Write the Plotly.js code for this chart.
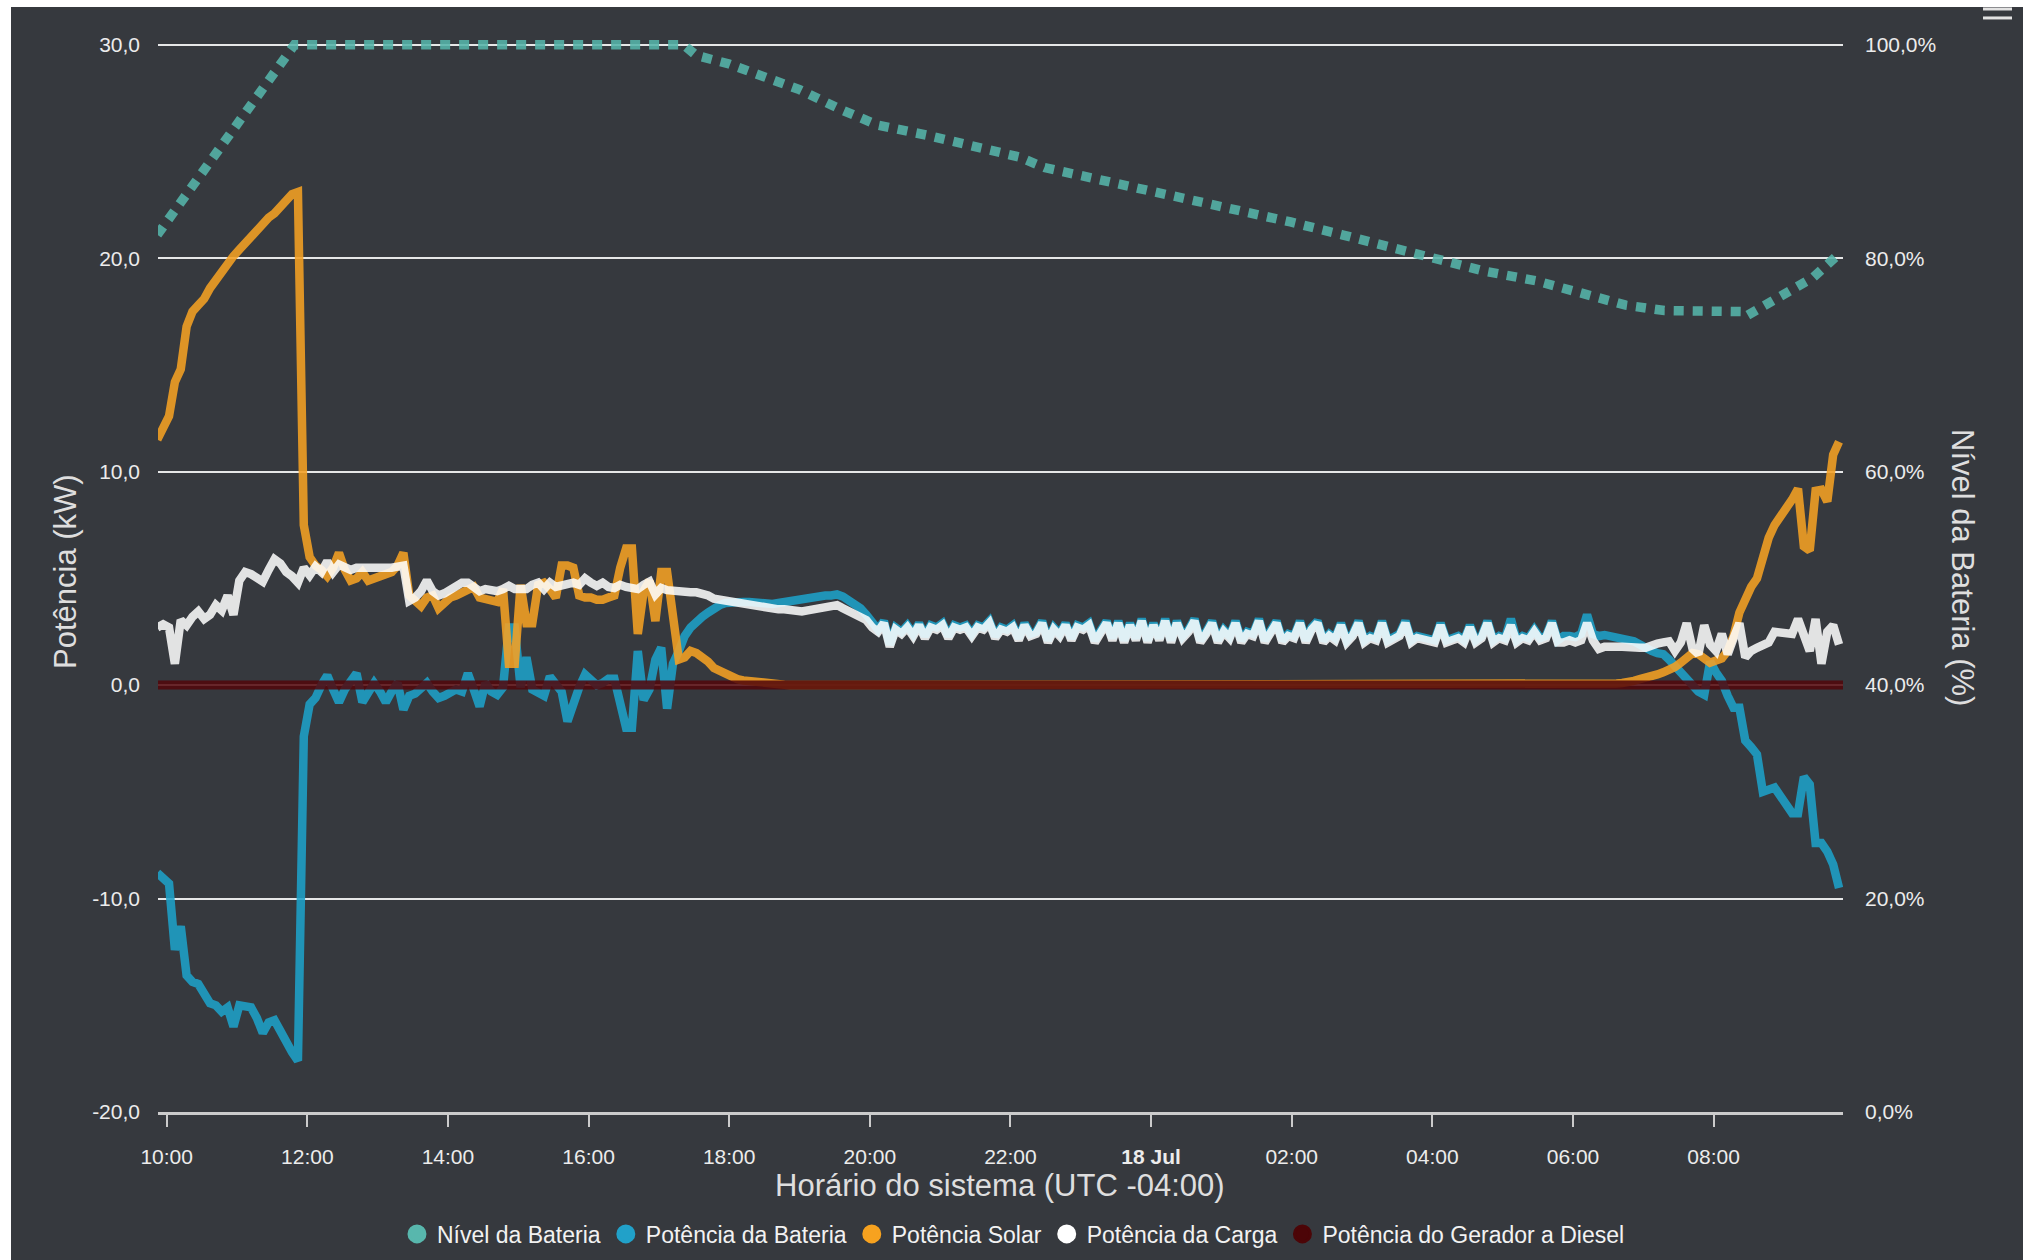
<!DOCTYPE html>
<html>
<head>
<meta charset="utf-8">
<script src="https://cdn.plot.ly/plotly-3.0.1.min.js"></script>
<style>
html,body{margin:0;padding:0;background:#ffffff;width:2023px;height:1260px;overflow:hidden}
#chart{position:absolute;left:11px;top:7px;width:2012px;height:1253px}
</style>
</head>
<body>
<div id="chart"></div>
<script>
// ---------- data ----------
const SERIES_START = '2023-07-17T09:52:00Z';   // first 5-min sample
const SAMPLE_MINUTES = 5;

const SOLAR_KW = [
 11.5,12.0,12.6,14.2,14.8,16.8,17.5,17.8,18.1,18.6,19.0,19.4,19.8,20.1,20.4,20.7,21.1,21.4,21.7,21.9,22.1,22.4,22.7,23.0,23.1,
 7.5,6.0,5.6,5.4,5.1,5.5,6.2,5.4,4.9,5.0,5.3,4.9,5.0,5.1,5.2,5.3,5.6,6.2,4.2,3.9,3.7,4.1,4.2,3.6,3.9,
 4.1,4.2,4.3,4.4,4.6,4.1,4.0,3.9,3.9,4.5,1.0,1.0,4.7,2.9,2.9,4.7,4.8,4.5,4.1,5.6,5.6,5.5,4.2,4.1,4.1,
 4.0,4.0,4.1,4.2,5.5,6.4,6.4,2.4,4.4,4.9,3.0,5.3,5.3,3.0,1.2,1.3,1.6,1.5,1.35,1.1,0.8,0.65,0.5,0.35,0.28,
 0.22,0.18,0.14,0.1,0.08,0.05,0.03,0.02,0.01,
 0,0,0,0,0,0,0,0,0,0,0,0,0,0,0,
 0,0,0,0,0,0,0,0,0,0,0,0,0,0,0,
 0,0,0,0,0,0,0,0,0,0,0,0,0,0,0,
 0,0,0,0,0,0,0,0,0,0,0,0,0,0,0,
 0,0,0,0,0,0,0,0,0,0,0,0,0,0,0,
 0,0,0,0,0,0,0,0,0,0,0,0,0,0,0,
 0,0,0,0,0,0,0,0,0,0,0,0,0,0,0,
 0,0,0,0,0,0,0,0,0,0,0,0,0,0,0,
 0,0,0,0,0,0,0,0,0,0,0,0,0,0,0,
 0.02,0.03,0.04,0.05,0.07,0.08,0.1,0.12,0.2,0.28,0.32,0.4,0.5,0.6,0.68,0.85,1.05,1.3,1.5,1.45,1.3,1.05,1.15,1.25,1.6,
 2.3,3.4,4.1,4.6,5.0,6.0,6.9,7.5,8.0,8.3,8.7,9.2,6.5,6.3,9.1,9.15,8.6,10.8,11.4
];

const BATTERY_KW = [
 -8.8,-9.0,-9.3,-12.4,-11.3,-13.6,-13.9,-14.0,-14.5,-14.9,-15.0,-15.3,-15.1,-16.0,-15.0,-15.1,-15.1,-15.6,-16.3,-15.8,-15.7,-16.2,-16.8,-17.2,-17.6,
 -2.4,-0.9,-0.6,0.0,0.45,-0.2,-0.8,-0.2,0.2,0.55,-0.8,-0.3,0.1,-0.3,-0.8,-0.3,0.1,-1.15,-0.5,-0.4,-0.2,0.1,-0.3,-0.6,-0.5,
 -0.4,-0.2,-0.3,0.55,-0.2,-1.0,0.1,-0.3,-0.45,-0.1,2.7,2.7,-0.1,1.3,-0.2,-0.3,-0.5,0.4,0.1,-0.3,-1.7,-0.8,-0.1,0.5,0.2,
 0.0,0.1,0.3,0.3,-1.0,-2.0,-2.0,1.6,-0.7,-0.2,1.2,1.75,-1.1,1.0,1.6,2.3,2.7,3.0,3.2,3.4,3.6,3.75,3.85,3.9,3.85,
 3.9,3.9,3.85,3.85,3.85,3.8,3.85,3.9,3.95,4.05,4.1,4.1,4.1,4.15,4.2,4.2,4.25,4.15,4.0,3.8,3.6,3.3,2.9,2.6,3.0,
 1.9,2.7,2.5,2.8,2.4,2.9,2.3,2.8,2.7,2.9,2.3,2.8,2.7,2.8,2.4,2.8,2.7,3.0,2.3,2.7,2.6,2.8,2.2,2.9,2.4,
 2.5,3.0,2.1,2.7,2.4,2.9,2.2,2.8,2.7,2.9,2.1,2.6,3.0,2.2,3.0,2.1,2.9,2.2,3.1,2.1,2.9,2.2,3.1,2.1,3.0,
 2.3,2.6,3.1,2.1,2.5,3.0,2.1,2.6,2.3,3.0,2.1,2.5,2.4,3.1,2.1,2.6,3.0,2.1,2.4,2.3,3.0,2.1,2.7,3.0,2.1,
 2.4,2.2,2.9,2.1,2.4,3.0,2.1,2.3,2.2,3.0,2.1,2.3,2.4,3.0,2.1,2.3,2.2,2.2,2.1,2.9,2.1,2.2,2.3,2.1,2.8,
 2.1,2.3,3.0,2.1,2.3,2.2,3.1,2.1,2.3,2.2,2.6,2.2,2.3,3.0,2.1,2.3,2.3,2.25,2.4,
 3.3,2.4,2.3,2.35,2.3,2.25,2.2,2.1,2.05,1.9,1.7,1.6,1.5,1.45,1.2,0.9,0.6,0.2,-0.1,-0.3,-0.45,1.1,0.6,0.2,-0.5,
 -1.06,-1.06,-2.6,-2.9,-3.25,-5.0,-4.9,-4.8,-5.2,-5.6,-6.0,-6.0,-4.3,-4.65,-7.4,-7.4,-7.8,-8.4,-9.5
];

const LOAD_KW = [
 2.7,2.85,2.7,1.0,3.05,2.8,3.2,3.45,3.1,3.3,3.75,3.5,4.2,3.3,4.9,5.3,5.2,5.0,4.85,5.4,5.9,5.7,5.3,5.1,4.8,
 5.5,5.15,5.55,5.3,5.8,5.3,5.65,5.5,5.4,5.5,5.5,5.45,5.5,5.5,5.45,5.5,5.55,5.6,3.95,4.1,4.4,4.9,4.4,4.2,4.3,
 4.45,4.6,4.8,4.8,4.55,4.4,4.5,4.4,4.4,4.5,4.65,4.5,4.45,4.5,4.7,4.8,4.5,4.8,4.6,4.65,4.7,4.8,4.7,5.0,4.8,
 4.65,4.8,4.6,4.55,4.7,4.6,4.5,4.5,4.7,4.85,4.25,4.55,4.45,4.4,4.45,4.4,4.35,4.35,4.3,4.2,4.05,4.0,3.95,3.9,3.85,
 3.75,3.7,3.7,3.65,3.6,3.6,3.55,3.55,3.5,3.5,3.45,3.5,3.55,3.6,3.65,3.7,3.75,3.6,3.45,3.3,3.2,3.05,2.7,2.5,2.9,
 1.8,2.6,2.4,2.7,2.3,2.8,2.2,2.7,2.6,2.8,2.2,2.7,2.6,2.7,2.3,2.7,2.6,2.9,2.2,2.6,2.5,2.7,2.1,2.8,2.3,
 2.4,2.9,2.0,2.6,2.3,2.8,2.1,2.7,2.6,2.8,2.0,2.5,2.9,2.1,2.9,2.0,2.8,2.1,3.0,2.0,2.8,2.1,3.0,2.0,2.9,
 2.2,2.5,3.0,2.0,2.4,2.9,2.0,2.5,2.2,2.9,2.0,2.4,2.3,3.0,2.0,2.5,2.9,2.0,2.3,2.2,2.9,2.0,2.6,2.9,2.0,
 2.3,2.1,2.8,2.0,2.3,2.9,2.0,2.2,2.1,2.9,2.0,2.2,2.3,2.9,2.0,2.2,2.1,2.1,2.0,2.8,2.0,2.1,2.2,2.0,2.7,
 2.0,2.2,2.9,2.0,2.2,2.1,2.8,2.0,2.2,2.1,2.5,2.1,2.2,2.9,2.0,2.0,2.1,2.0,2.1,2.9,2.1,1.7,1.8,1.85,1.8,
 1.8,1.75,1.8,1.75,1.75,1.9,1.95,2.0,2.05,1.6,2.0,2.9,1.7,1.45,2.8,1.9,1.6,2.4,1.45,2.2,2.9,1.3,1.6,1.75,1.9,
 2.0,2.5,2.45,2.4,2.4,3.1,2.3,1.6,3.1,1.0,2.5,2.8,1.9
];

const DIESEL_TIMES = ['2023-07-17 09:52:36', '2023-07-18 09:50:24'];
const DIESEL_KW = [0, 0];

const LEVEL_TIMES = [
 '2023-07-17 09:52','2023-07-17 11:49','2023-07-17 17:21','2023-07-17 17:32','2023-07-17 18:00',
 '2023-07-17 18:27','2023-07-17 19:00','2023-07-17 19:34','2023-07-17 20:06','2023-07-17 20:50',
 '2023-07-17 21:34','2023-07-17 22:07','2023-07-17 22:29','2023-07-17 23:02','2023-07-17 23:47',
 '2023-07-18 00:31','2023-07-18 01:14','2023-07-18 01:59','2023-07-18 02:43','2023-07-18 03:27',
 '2023-07-18 03:59','2023-07-18 04:44','2023-07-18 05:28','2023-07-18 06:12','2023-07-18 06:45',
 '2023-07-18 07:18','2023-07-18 07:51','2023-07-18 08:24','2023-07-18 08:28','2023-07-18 08:57',
 '2023-07-18 09:25','2023-07-18 09:47'
];
const LEVEL_PCT = [
 82.2,100,100,99,98.2,
 97.2,95.8,94,92.5,91.5,
 90.3,89.5,88.5,87.7,86.7,
 85.5,84.5,83.4,82.2,81,
 80,78.8,77.9,76.7,75.6,
 75.1,75,75,74.6,76.4,
 78.2,80.4
];

const X_TICK_VALUES = ['2023-07-17 10:00','2023-07-17 12:00','2023-07-17 14:00','2023-07-17 16:00','2023-07-17 18:00',
 '2023-07-17 20:00','2023-07-17 22:00','2023-07-18 00:00','2023-07-18 02:00','2023-07-18 04:00','2023-07-18 06:00','2023-07-18 08:00'];
const X_TICK_LABELS = ['10:00','12:00','14:00','16:00','18:00','20:00','22:00','<b>18 Jul</b>','02:00','04:00','06:00','08:00'];
const Y_TICKS = [-20,-10,0,10,20,30];
const Y_TICK_LABELS = ['-20,0','-10,0','0,0','10,0','20,0','30,0'];
const Y2_TICKS = [0,20,40,60,80,100];
const Y2_TICK_LABELS = ['0,0%','20,0%','40,0%','60,0%','80,0%','100,0%'];

const NAMES = ['Nível da Bateria','Potência da Bateria','Potência Solar','Potência da Carga','Potência do Gerador a Diesel'];

// ---------- build ----------
function sampleTimes(n) {
  const t0 = Date.parse(SERIES_START);
  const out = [];
  for (let i = 0; i < n; i++) {
    out.push(new Date(t0 + i * SAMPLE_MINUTES * 60000).toISOString().slice(0,16).replace('T',' '));
  }
  return out;
}

const BG = '#36393e';
const FONT = '"Liberation Sans", Arial, Helvetica, sans-serif';
const LINE_COLORS = ['rgba(85,180,170,0.88)','rgba(30,160,200,0.88)','rgba(245,160,35,0.88)','rgba(255,255,255,0.86)','rgba(82,6,10,0.86)'];
const LEGEND_COLORS = ['#58b7ad','#21a1c9','#f7a21f','#ffffff','#4c0507'];

const traces = [
  {x: LEVEL_TIMES, y: LEVEL_PCT, yaxis:'y2', mode:'lines', name:NAMES[0], legendgroup:'g0', showlegend:false,
   line:{color:LINE_COLORS[0], width:9.5, dash:'10px,9px'}},
  {x: sampleTimes(BATTERY_KW.length), y: BATTERY_KW, mode:'lines', name:NAMES[1], legendgroup:'g1', showlegend:false,
   line:{color:LINE_COLORS[1], width:8.5}},
  {x: sampleTimes(SOLAR_KW.length), y: SOLAR_KW, mode:'lines', name:NAMES[2], legendgroup:'g2', showlegend:false,
   line:{color:LINE_COLORS[2], width:8.5}},
  {x: sampleTimes(LOAD_KW.length), y: LOAD_KW, mode:'lines', name:NAMES[3], legendgroup:'g3', showlegend:false,
   line:{color:LINE_COLORS[3], width:8.5}},
  {x: DIESEL_TIMES, y: DIESEL_KW, mode:'lines', name:NAMES[4], legendgroup:'g4', showlegend:false,
   line:{color:LINE_COLORS[4], width:9}}
];
// legend entries (circle symbols)
for (let k = 0; k < NAMES.length; k++) {
  traces.push({x:[null], y:[null], mode:'markers', name:NAMES[k], legendgroup:'g'+k, showlegend:true,
    marker:{symbol:'circle', size:16, color:LEGEND_COLORS[k], line:{color:LEGEND_COLORS[k], width:3}}, hoverinfo:'skip'});
}

const layout = {
  width: 2012, height: 1253,
  paper_bgcolor: BG, plot_bgcolor: BG,
  margin: {l:147, r:180, t:25, b:148, pad:0},
  separators: ',.',
  font: {family: FONT, color:'#e8e8e8', size:21},
  showlegend: true,
  hovermode: 'x',
  legend: {orientation:'h', xref:'paper', x:0.5077, xanchor:'center', yref:'container', y:0.0208, yanchor:'middle',
           font:{size:23, color:'#f2f2f2', family:FONT}, bgcolor:'rgba(0,0,0,0)', traceorder:'normal'},
  xaxis: {type:'date', range:['2023-07-17 09:52:36','2023-07-18 09:50:24'], tickmode:'array',
          tickvals:X_TICK_VALUES, ticktext:X_TICK_LABELS, showgrid:false, zeroline:false,
          showline:true, linecolor:'#cbcbcb', linewidth:3, ticks:'outside', ticklen:12, tickwidth:2, tickcolor:'#cbcbcb',
          tickfont:{size:21, color:'#ececec'}, ticklabelstandoff:12, fixedrange:true},
  yaxis: {range:[-20, 30.6], tickmode:'array', tickvals:Y_TICKS, ticktext:Y_TICK_LABELS,
          showgrid:true, gridcolor:'rgba(255,255,255,0.88)', gridwidth:2, zeroline:false, showline:false,
          ticks:'', ticklabelstandoff:17, tickfont:{size:21, color:'#ececec'}, fixedrange:true},
  yaxis2: {overlaying:'y', side:'right', range:[0, 101.2], tickmode:'array', tickvals:Y2_TICKS, ticktext:Y2_TICK_LABELS,
           showgrid:false, zeroline:false, showline:false, ticks:'', ticklabelstandoff:21,
           tickfont:{size:21, color:'#ececec'}, fixedrange:true},
  annotations: [
    {text:'Horário do sistema (UTC -04:00)', xref:'paper', yref:'paper', x:0.4997, y:-0.0676, xanchor:'center', yanchor:'middle',
     showarrow:false, font:{size:31, color:'#dedede', family:FONT}},
    {text:'Potência (kW)', xref:'paper', yref:'paper', x:-0.0552, y:0.5009, xanchor:'center', yanchor:'middle',
     textangle:-90, showarrow:false, font:{size:31, color:'#dedede', family:FONT}},
    {text:'Nível da Bateria (%)', xref:'paper', yref:'paper', x:1.0712, y:0.5037, xanchor:'center', yanchor:'middle',
     textangle:90, showarrow:false, font:{size:31, color:'#dedede', family:FONT}}
  ],
  shapes: [
    {type:'line', xref:'paper', yref:'paper', x0:1.0831, x1:1.1003, y0:1.0213, y1:1.0213, line:{color:'#e2e2e2', width:3}},
    {type:'line', xref:'paper', yref:'paper', x0:1.0831, x1:1.1003, y0:1.0130, y1:1.0130, line:{color:'#e2e2e2', width:3}}
  ]
};

Plotly.newPlot('chart', traces, layout, {displayModeBar:false, responsive:false});
</script>
</body>
</html>
